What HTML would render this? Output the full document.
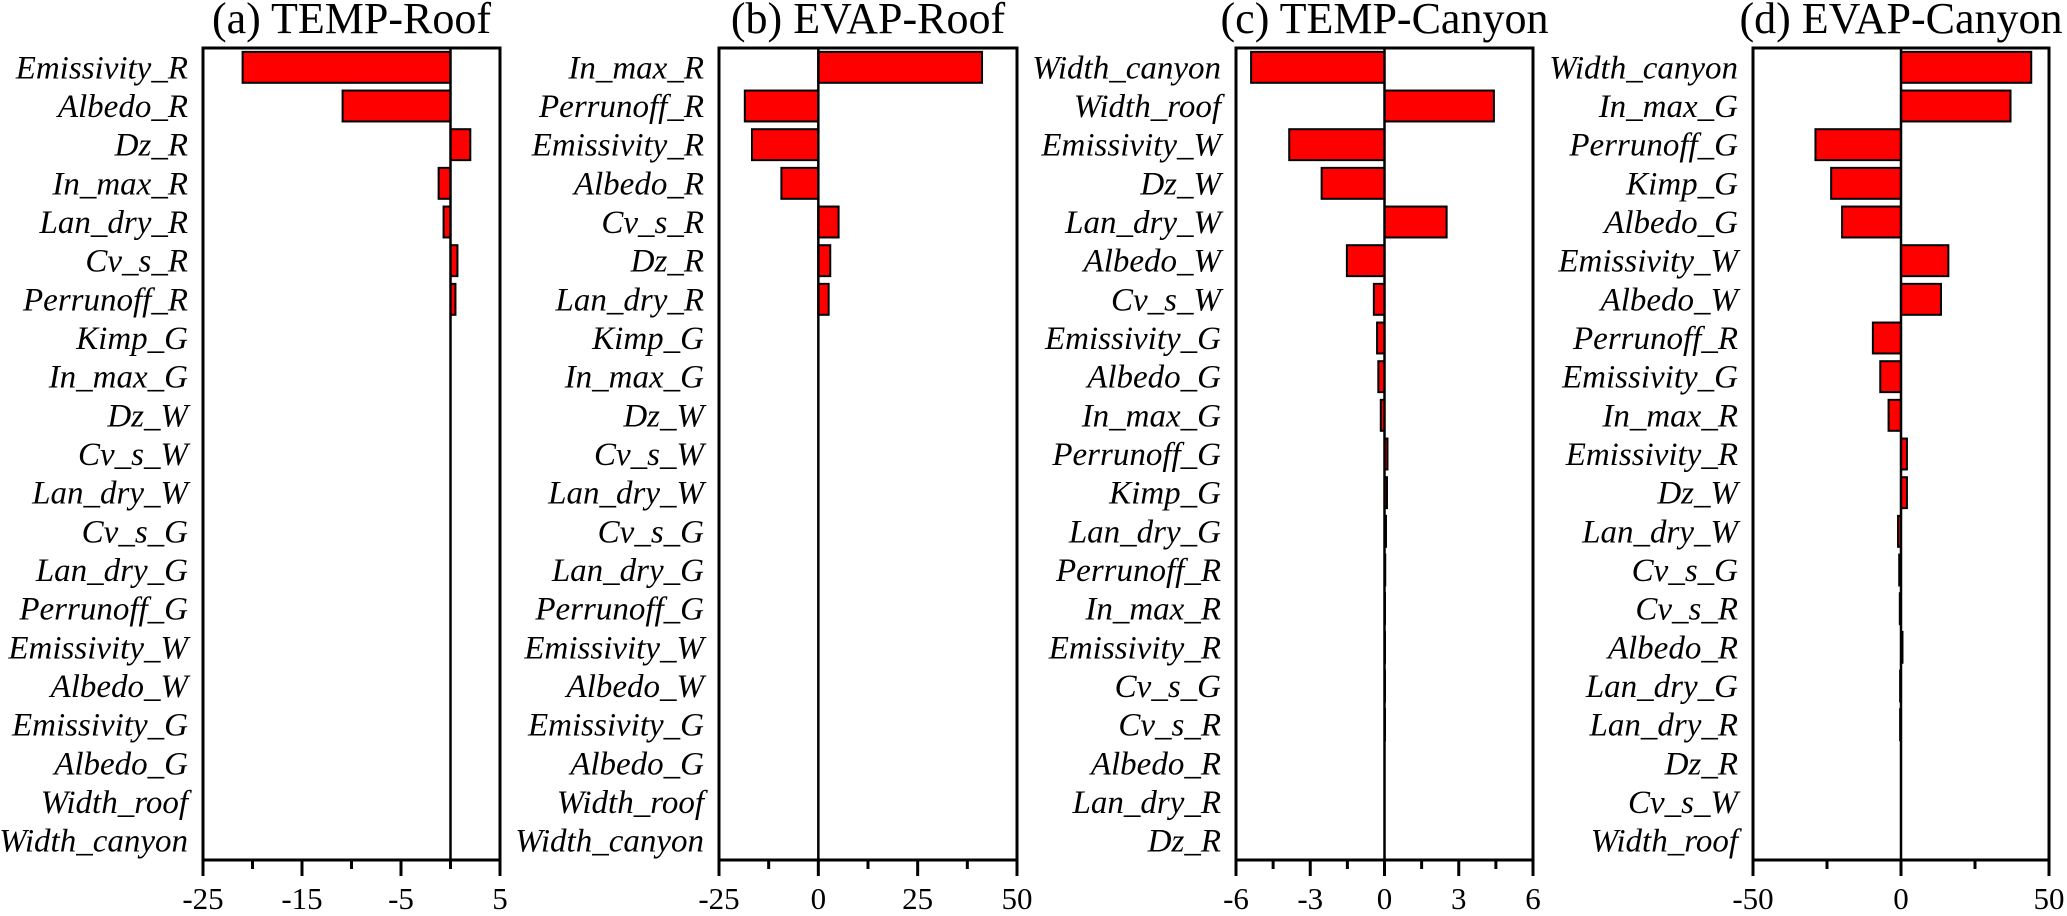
<!DOCTYPE html>
<html><head><meta charset="utf-8"><style>
html,body{margin:0;padding:0;background:#fff;}
svg{display:block;}
text{font-family:"Liberation Serif",serif;fill:#000;}
</style></head><body>
<svg id="chart" width="2067" height="916" viewBox="0 0 2067 916" xmlns="http://www.w3.org/2000/svg"></svg>
<script>
const titles = ["(a) TEMP-Roof","(b) EVAP-Roof","(c) TEMP-Canyon","(d) EVAP-Canyon"];
const catsA = ["Emissivity_R","Albedo_R","Dz_R","In_max_R","Lan_dry_R","Cv_s_R","Perrunoff_R","Kimp_G","In_max_G","Dz_W","Cv_s_W","Lan_dry_W","Cv_s_G","Lan_dry_G","Perrunoff_G","Emissivity_W","Albedo_W","Emissivity_G","Albedo_G","Width_roof","Width_canyon"];
const valsA = [-21.0,-10.9,2.0,-1.2,-0.7,0.7,0.5,0,0,0,0,0,0,0,0,0,0,0,0,0,0];
const catsB = ["In_max_R","Perrunoff_R","Emissivity_R","Albedo_R","Cv_s_R","Dz_R","Lan_dry_R","Kimp_G","In_max_G","Dz_W","Cv_s_W","Lan_dry_W","Cv_s_G","Lan_dry_G","Perrunoff_G","Emissivity_W","Albedo_W","Emissivity_G","Albedo_G","Width_roof","Width_canyon"];
const valsB = [41.2,-18.5,-16.7,-9.3,5.1,3.0,2.6,0,0,0,0,0,0,0,0,0,0,0,0,0,0];
const catsC = ["Width_canyon","Width_roof","Emissivity_W","Dz_W","Lan_dry_W","Albedo_W","Cv_s_W","Emissivity_G","Albedo_G","In_max_G","Perrunoff_G","Kimp_G","Lan_dry_G","Perrunoff_R","In_max_R","Emissivity_R","Cv_s_G","Cv_s_R","Albedo_R","Lan_dry_R","Dz_R"];
const valsC = [-5.39,4.42,-3.85,-2.54,2.51,-1.52,-0.43,-0.30,-0.25,-0.15,0.12,0.10,0.06,0.03,0.02,0.02,0.01,0.01,0,0,0];
const catsD = ["Width_canyon","In_max_G","Perrunoff_G","Kimp_G","Albedo_G","Emissivity_W","Albedo_W","Perrunoff_R","Emissivity_G","In_max_R","Emissivity_R","Dz_W","Lan_dry_W","Cv_s_G","Cv_s_R","Albedo_R","Lan_dry_G","Lan_dry_R","Dz_R","Cv_s_W","Width_roof"];
const valsD = [44.0,37.0,-28.9,-23.6,-19.9,16.0,13.5,-9.5,-7.0,-4.2,2.0,2.0,-1.0,-0.6,-0.4,0.5,-0.3,-0.3,0,0,0];
const domains = [[-25,5],[-25,50],[-6,6],[-50,50]];
const majorTicks = [[-25,-15,-5,5],[-25,0,25,50],[-6,-3,0,3,6],[-50,0,50]];
const minorTicks = [[-20,-10,0],[-12.5,12.5,37.5],[-4.5,-1.5,1.5,4.5],[-25,25]];

const NS="http://www.w3.org/2000/svg";
const svg=document.getElementById('chart');
const lefts=[203,719,1236,1753], rights=[500,1017,1533,2049];
const top0=48, bot=860;
function mk(tag,attrs,parent){const e=document.createElementNS(NS,tag);for(const k in attrs)e.setAttribute(k,attrs[k]);(parent||svg).appendChild(e);return e;}
const allCats=[catsA,catsB,catsC,catsD], allVals=[valsA,valsB,valsC,valsD];
for(let p=0;p<4;p++){
  const g=mk('g',{});
  
  
  const L=lefts[p],R=rights[p],[d0,d1]=domains[p];
  const x=v=>L+(v-d0)/(d1-d0)*(R-L);
  const cats=allCats[p], vals=allVals[p];
  const n=cats.length, step=(bot-top0)/n;
  const y=i=>top0+i*step;
  const t=mk('text',{x:(L+R)/2,y:33,'text-anchor':'middle','font-size':44},g);
  t.textContent=titles[p];
  
  
  for(let i=0;i<n;i++){
    const lb=mk('text',{x:L-15,y:y(i)+step/2+11,'text-anchor':'end','font-size':33,'font-style':'italic'},g);
    lb.textContent=cats[i];
    
    
    const v=vals[i];
    if(v!==0){
      const x0=Math.min(x(0),x(v)), w=Math.abs(x(v)-x(0));
      const b=mk('rect',{x:x0,y:y(i)+step*0.1,width:Math.max(w,0.5),height:step*0.8,fill:'#ff0000',stroke:'#000','stroke-width':2},g);
      
      
    }
  }
  const z=mk('line',{x1:x(0),x2:x(0),y1:top0,y2:bot,stroke:'#000','stroke-width':2.5},g);
  
  
  const fr=mk('rect',{x:L,y:top0,width:R-L,height:bot-top0,fill:'none',stroke:'#000','stroke-width':3},g);
  
  
  majorTicks[p].forEach(v=>{
    const tk=mk('line',{x1:x(v),x2:x(v),y1:bot,y2:bot+16,stroke:'#000','stroke-width':3},g);
    
    
    const tl=mk('text',{x:x(v),y:909,'text-anchor':'middle','font-size':31},g);
    tl.textContent=String(v);
    
    
  });
  minorTicks[p].forEach(v=>{
    const tk=mk('line',{x1:x(v),x2:x(v),y1:bot,y2:bot+9,stroke:'#000','stroke-width':3},g);
    
    
  });
}
</script>
</body></html>
